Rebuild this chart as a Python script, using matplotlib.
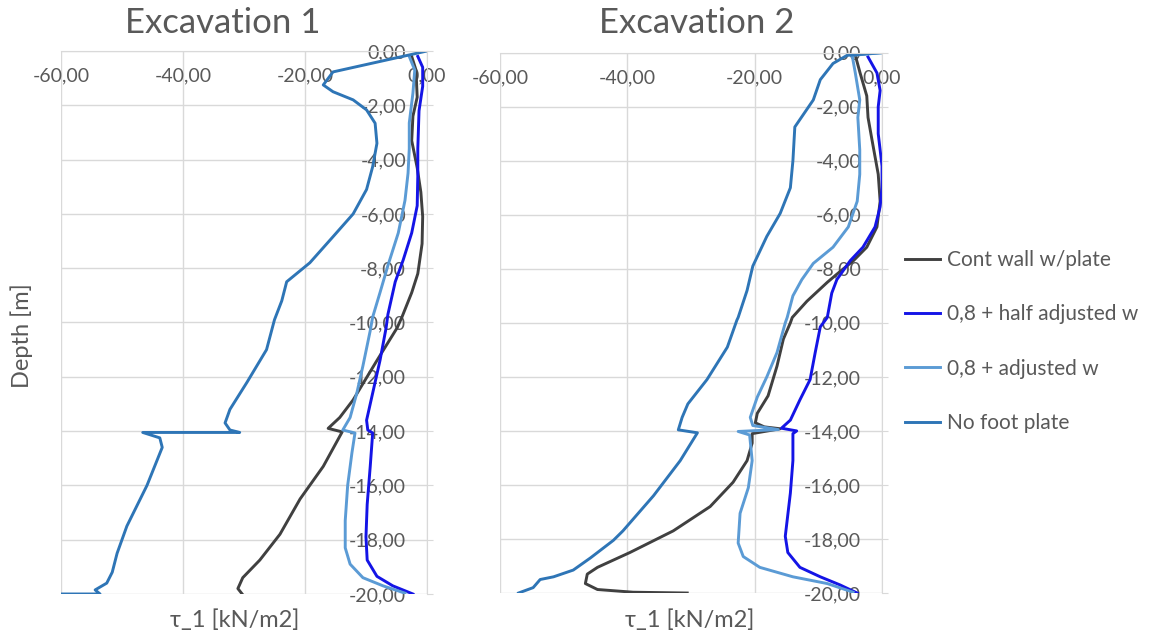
import matplotlib.pyplot as plt
from matplotlib.ticker import FuncFormatter, MultipleLocator

# Excavation 1 : profils de tau_1 (kN/m2) en fonction de la profondeur (m)
ex1_cont_t = [-2.5, -1.8, -1.6, -2.3, -2.5, -1.6, -1.0, -0.7, -0.8, -1.5, -2.5, -4.1, -4.9, -8.2,
              -12.1, -14.3, -16.2, -13.9, -17.0, -20.8, -24.1, -27.4, -30.2, -31.0, -30.3]
ex1_cont_d = [-0.2, -0.7, -1.7, -2.4, -3.3, -4.3, -5.2, -6.1, -7.1, -8.2, -8.9, -9.8, -10.2, -11.4,
              -12.85, -13.5, -13.9, -14.03, -15.3, -16.5, -17.8, -18.75, -19.4, -19.8, -20.0]

ex1_half_t = [-1.5, -0.7, -0.7, -1.3, -1.5, -1.5, -1.6, -2.5, -3.9, -5.2, -6.4, -6.7, -7.7, -8.9,
              -9.9, -9.7, -8.9, -9.3, -9.8, -10.0, -9.8, -8.2, -5.6, -2.3]
ex1_half_d = [-0.2, -0.6, -1.3, -2.2, -3.6, -4.6, -5.7, -6.7, -7.7, -8.5, -9.7, -10.2, -11.4, -12.6,
              -13.6, -13.96, -14.07, -15.3, -16.7, -17.9, -18.75, -19.35, -19.7, -20.0]

ex1_adj_t = [-2.9, -2.0, -2.3, -2.9, -2.9, -3.1, -3.6, -4.7, -6.4, -7.7, -8.9, -9.3, -10.5, -11.5,
             -12.6, -13.8, -11.8, -12.3, -13.0, -13.4, -13.4, -12.6, -10.5, -7.2, -3.6]
ex1_adj_d = [-0.2, -0.7, -1.55, -2.65, -3.6, -4.5, -5.5, -6.7, -7.9, -8.9, -9.8, -10.3, -11.6, -12.6,
             -13.5, -13.96, -14.07, -14.8, -16.0, -17.3, -18.3, -18.9, -19.4, -19.7, -19.97]

ex1_nofoot_t = [0.0, -15.4, -17.0, -15.4, -12.1, -9.9, -8.5, -8.2, -8.9, -9.9, -12.1, -15.4, -19.2,
                -23.0, -23.8, -25.0, -26.3, -29.5, -32.3, -33.1, -32.3, -30.7, -46.6, -43.8, -43.4,
                -45.9, -49.2, -50.8, -51.6, -52.5, -54.4, -53.6, -60.0]
ex1_nofoot_d = [0.0, -0.77, -1.25, -1.5, -1.8, -2.17, -2.66, -3.4, -4.26, -5.1, -6.0, -6.84, -7.8,
                -8.5, -9.2, -9.9, -11.0, -12.2, -13.2, -13.7, -13.96, -14.05, -14.05, -14.25, -14.6,
                -16.0, -17.5, -18.5, -19.2, -19.6, -19.85, -20.0, -20.0]

# Excavation 2
ex2_cont_t = [-4.2, -3.45, -2.4, -2.2, -1.6, -0.6, -0.3, -0.8, -2.4, -4.5, -6.6, -8.6, -11.8, -14.1,
              -14.4, -15.5, -16.5, -17.9, -19.6, -19.9, -18.5, -16.0, -20.4, -20.4, -21.2, -23.4,
              -27.0, -32.8, -39.6, -44.7, -46.3, -46.6, -44.7, -39.1, -30.6]
ex2_cont_d = [-0.1, -0.75, -1.6, -2.4, -3.2, -4.5, -5.5, -6.45, -7.2, -7.7, -8.1, -8.5, -9.2, -9.8,
              -10.0, -10.6, -11.6, -12.7, -13.35, -13.7, -13.85, -13.92, -14.1, -14.45, -15.1, -15.9,
              -16.8, -17.7, -18.5, -19.05, -19.3, -19.65, -19.87, -19.97, -20.0]

ex2_half_t = [-2.2, -0.8, -0.3, -0.6, -0.6, 0.0, 0.0, -0.3, -1.1, -3.0, -5.0, -7.1, -7.9, -8.6,
              -9.7, -10.5, -11.3, -12.9, -14.4, -15.8, -13.4, -14.0, -14.0, -14.4, -15.2, -14.8,
              -12.9, -9.7, -6.6, -3.9]
ex2_half_d = [-0.16, -0.75, -1.4, -2.0, -3.0, -4.2, -5.0, -5.7, -6.45, -7.2, -7.7, -8.4, -8.9, -9.8,
              -10.15, -11.1, -12.1, -12.85, -13.6, -13.9, -14.0, -14.1, -15.1, -16.3, -17.9, -18.5,
              -19.05, -19.4, -19.7, -20.0]

ex2_adj_t = [0.0, -4.7, -4.2, -3.5, -3.8, -3.5, -3.5, -3.9, -5.3, -7.7, -10.8, -12.6, -14.0, -14.9,
             -15.2, -16.5, -18.1, -19.6, -20.7, -20.3, -16.3, -22.6, -20.8, -20.4, -21.0, -22.3,
             -22.6, -21.8, -19.2, -14.0, -8.6, -4.55]
ex2_adj_d = [0.0, -0.1, -0.75, -1.75, -2.4, -3.6, -4.5, -5.5, -6.45, -7.2, -7.8, -8.4, -9.0, -9.8,
             -10.0, -11.1, -12.0, -12.75, -13.5, -13.8, -13.95, -14.02, -14.15, -15.1, -16.1, -17.05,
             -18.15, -18.65, -19.05, -19.4, -19.65, -19.97]

ex2_nofoot_t = [0.0, -5.5, -7.7, -9.7, -10.8, -13.7, -14.0, -14.4, -16.0, -18.1, -20.3, -21.2, -22.6,
                -22.8, -24.3, -27.5, -30.5, -31.4, -32.0, -29.0, -31.7, -35.9, -40.7, -42.2, -45.8,
                -48.5, -51.6, -53.7, -54.8, -57.1]
ex2_nofoot_d = [0.0, -0.1, -0.4, -1.0, -1.75, -2.75, -4.0, -5.0, -5.95, -6.8, -7.9, -8.8, -9.8,
                -9.9, -10.9, -12.1, -13.0, -13.5, -13.96, -14.07, -15.1, -16.4, -17.7, -18.05, -18.7,
                -19.15, -19.4, -19.5, -19.8, -20.0]

labels = ['Cont wall w/plate', '0,8 + half adjusted w', '0,8 + adjusted w', 'No foot plate']
colors = ['#404040', '#1414e6', '#5b9bd5', '#2e75b6']

panels = [
    ('Excavation 1', [(ex1_cont_t, ex1_cont_d), (ex1_half_t, ex1_half_d),
                      (ex1_adj_t, ex1_adj_d), (ex1_nofoot_t, ex1_nofoot_d)]),
    ('Excavation 2', [(ex2_cont_t, ex2_cont_d), (ex2_half_t, ex2_half_d),
                      (ex2_adj_t, ex2_adj_d), (ex2_nofoot_t, ex2_nofoot_d)]),
]

plt.rcParams['font.family'] = ['Lato', 'DejaVu Sans']
grey = '#595959'
grid = '#d9d9d9'

fig = plt.figure(figsize=(11.53, 6.40), dpi=100)
rects = [[0.0529, 0.0719, 0.3174, 0.8484], [0.4337, 0.0734, 0.3313, 0.8443]]
title_x = [223, 697]
xlabel_x = [235, 690]

virgule = FuncFormatter(lambda v, pos: f'{v:.2f}'.replace('.', ','))

for i, (titre, series) in enumerate(panels):
    ax = fig.add_axes(rects[i])
    for (t, d), lab, col in zip(series, labels, colors):
        ax.plot(t, d, color=col, lw=2.1, label=lab, solid_joinstyle='round')
    ax.set_xlim(-60, 0)
    ax.set_ylim(-20, 0)
    ax.xaxis.set_major_locator(MultipleLocator(20))
    ax.yaxis.set_major_locator(MultipleLocator(2))
    ax.xaxis.set_major_formatter(virgule)
    ax.yaxis.set_major_formatter(virgule)
    ax.grid(True, color=grid, lw=1)
    ax.set_axisbelow(True)

    # axes croisees en (0, 0) comme dans Excel
    ax.spines['left'].set_position(('data', 0))
    ax.spines['bottom'].set_position(('data', 0))
    ax.spines['top'].set_visible(False)
    ax.spines['right'].set_visible(False)
    for s in ('left', 'bottom'):
        ax.spines[s].set_color(grid)
    ax.tick_params(axis='x', length=0, pad=12, labelsize=14, labelcolor=grey)
    ax.tick_params(axis='y', direction='in', length=4.5, color=grid, pad=15,
                   labelsize=14, labelcolor=grey)

    fig.text(title_x[i] / 1153, 1 - 23 / 640, titre, ha='center', va='center',
             fontsize=25, color=grey)
    fig.text(xlabel_x[i] / 1153, 1 - 620 / 640, 'τ_1 [kN/m2]', ha='center', va='center',
             fontsize=17, color=grey)

fig.text(22 / 1153, 1 - 336 / 640, 'Depth [m]', rotation=90, ha='center', va='center',
         fontsize=17, color=grey)

handles, labs = ax.get_legend_handles_labels()
leg = fig.legend(handles, labs, loc='upper left', bbox_to_anchor=(905 / 1153, 1 - 250 / 640),
                 frameon=False, fontsize=15, handlelength=1.7, handletextpad=0.3,
                 labelspacing=1.65, borderpad=0, borderaxespad=0)
for txt in leg.get_texts():
    txt.set_color(grey)

fig.savefig('out.png', dpi=100, facecolor='white')
